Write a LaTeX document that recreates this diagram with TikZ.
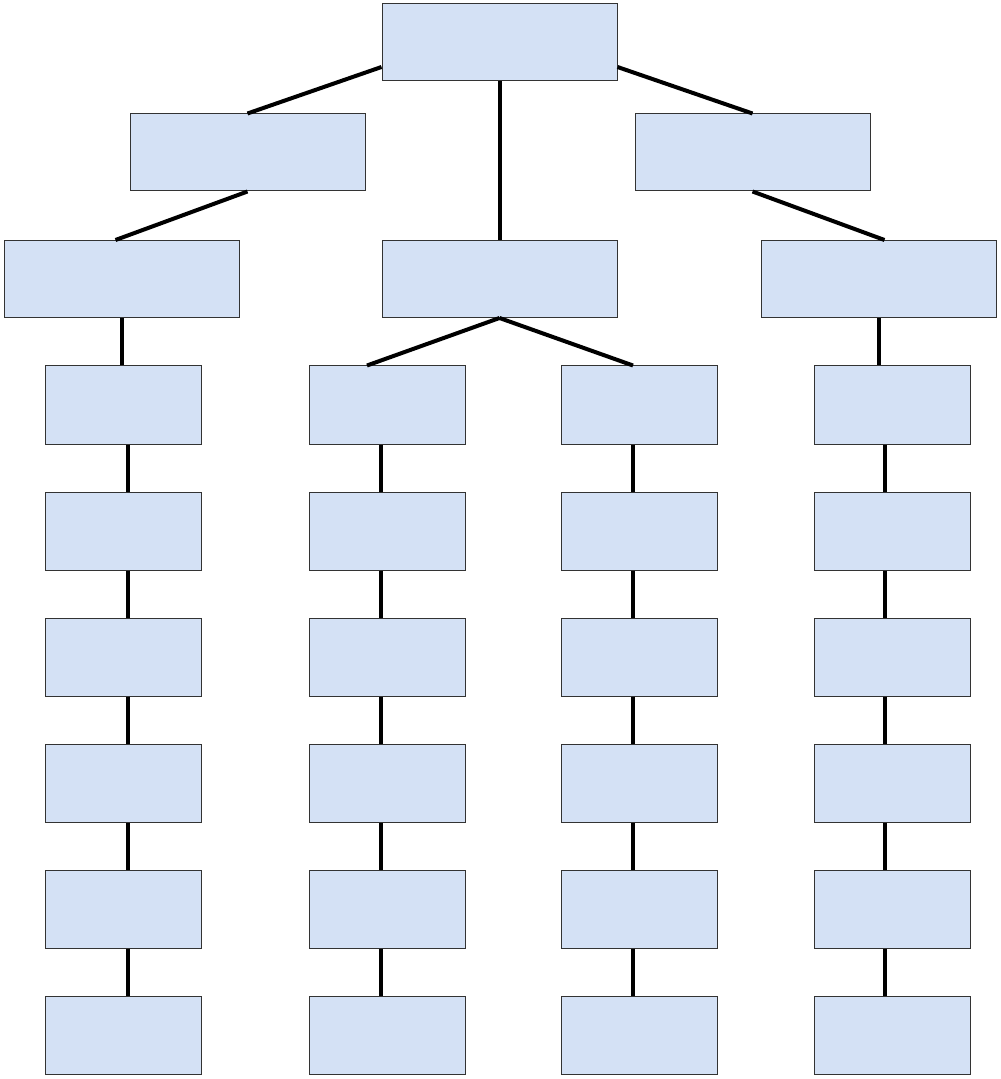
\documentclass[tikz,border=0pt]{standalone}
\definecolor{boxfill}{RGB}{212,225,245}
\definecolor{boxline}{RGB}{51,51,51}
\begin{document}
\begin{tikzpicture}[x=0.5pt,y=-0.5pt]

    \tikzset{
      box/.style={
        draw=boxline,
        fill=boxfill,
        line width=0.5pt,
        inner sep=0pt,
      },
      bigbox/.style={box, minimum width=117.5pt, minimum height=38.5pt},
      smallbox/.style={box, minimum width=78pt, minimum height=39pt},
      link/.style={line width=2pt},
    }
    \useasboundingbox (0,0) rectangle (1000,1079);

	% top levels
	\node[bigbox] (root) at (499.5,42.5) {};
	\node[bigbox] (left) at (247.5,152.5) {};
	\node[bigbox] (right) at (752.5,152.5) {};
	\node[bigbox] (leftlow) at (121.5,279) {};
	\node[bigbox] (mid) at (499.5,279) {};
	\node[bigbox] (rightlow) at (878.5,279) {};

	% columns
	\foreach \col/\cx in {1/123,2/387.5,3/639.5,4/892.5}
	  \foreach \row/\cy in {1/405,2/531,3/657,4/783,5/909,6/1035}
	    \node[smallbox] (c\col-\row) at (\cx,\cy) {};

	\draw[link] ([yshift=-12.25pt]root.west)--(left.north);
	\draw[link] ([yshift=-12.25pt]root.east)--(right.north);
	\draw[link] (root.south)--(mid.north);
	\draw[link] (left.south)--([xshift=-3pt]leftlow.north);
	\draw[link] (right.south)--([xshift=3pt]rightlow.north);
	\draw[link] (mid.south)--([xshift=-10.25pt]c2-1.north);
	\draw[link] (mid.south)--([xshift=-3.25pt]c3-1.north);
	\draw[link] (leftlow.south)--(leftlow.south |- c1-1.north);
	\draw[link] (rightlow.south)--(rightlow.south |- c4-1.north);

	\foreach \col/\dx in {1/2.5,2/-3.25,3/-3.25,4/-3.75}
	  \foreach \row [remember=\row as \prev (initially 1)] in {2,...,6}
	    \draw[link] ([xshift=\dx pt]c\col-\prev.south)--([xshift=\dx pt]c\col-\row.north);

\end{tikzpicture}
\end{document}
